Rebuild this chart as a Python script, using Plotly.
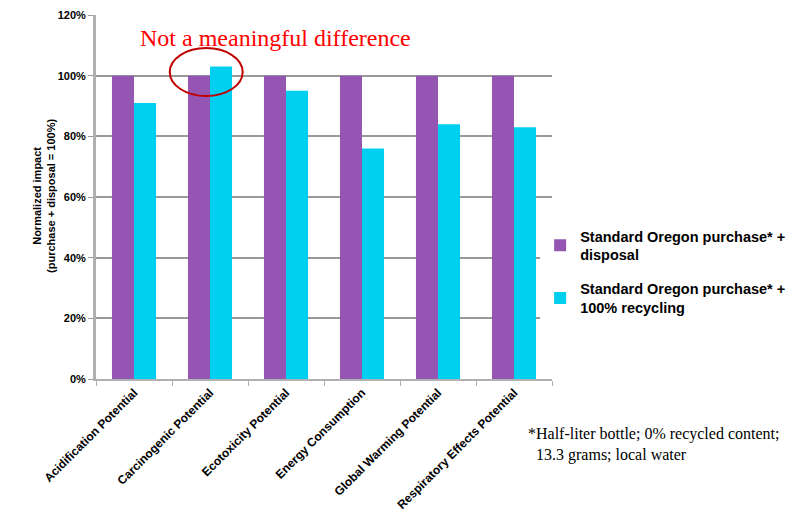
import plotly.graph_objects as go

categories = ["Acidification Potential", "Carcinogenic Potential", "Ecotoxicity Potential",
              "Energy Consumption", "Global Warming Potential", "Respiratory Effects Potential"]
disposal = [100, 100, 100, 100, 100, 100]
recycling = [91, 103, 95, 76, 84, 83]
y_ticks = [0, 20, 40, 60, 80, 100, 120]

purple = "#9556B3"
cyan = "#00CFF0"

fig = go.Figure()
fig.add_trace(go.Bar(x=categories, y=disposal, name="<b>Standard Oregon purchase* +<br>disposal</b>",
                     legendgroup="disposal",
                     marker=dict(color=purple, line=dict(width=0))))
fig.add_trace(go.Bar(x=categories, y=recycling, name="<b>Standard Oregon purchase* +<br>100% recycling</b>",
                     legendgroup="recycling",
                     marker=dict(color=cyan, line=dict(width=0))))

# page has an 8px body margin, so margins are offset by that
fig.update_layout(
    width=800, height=519,
    margin=dict(l=88, r=256, t=7, b=148, autoexpand=False),
    plot_bgcolor="white", paper_bgcolor="white",
    barmode="group", bargap=0.42, bargroupgap=0,
    font=dict(family="Liberation Sans, Arial", color="black"),
    showlegend=True,
    legend=dict(x=0.974, y=0.294, xanchor="left", yanchor="middle",
                font=dict(size=14.5, family="Liberation Sans, Arial"),
                itemwidth=30, tracegroupgap=12, traceorder="grouped"),
)

fig.update_xaxes(
    automargin=False,
    tickangle=-45, tickfont=dict(size=12, family="Liberation Sans, Arial"),
    tickvals=categories, ticktext=["<b>%s</b>" % c for c in categories],
    showline=True, linecolor="#B0B0B0", linewidth=2,
    ticks="outside", tickson="boundaries", ticklen=5, tickcolor="#B0B0B0",
    showgrid=False,
)
fig.update_yaxes(
    automargin=False,
    range=[0, 120],
    tickvals=y_ticks, ticktext=["<b>%d%%</b>" % v for v in y_ticks],
    tickfont=dict(size=11, family="Liberation Sans, Arial"),
    showline=True, linecolor="#B0B0B0", linewidth=3,
    ticks="outside", ticklen=5, tickcolor="#999999",
    showgrid=True, gridcolor="#999999", gridwidth=2,
    zeroline=False,
)

# y axis title
fig.add_annotation(text="<b>Normalized impact<br>(purchase + disposal = 100%)</b>",
                   xref="paper", yref="paper", x=-0.114, y=0.503, textangle=-90,
                   xanchor="center", yanchor="middle",
                   showarrow=False, font=dict(size=11))

# ellipse around carcinogenic pair
fig.add_shape(type="circle", xref="x", yref="y", x0=0.47, x1=1.43, y0=93.3, y1=109.1,
              line=dict(color="#C00000", width=2))

fig.add_annotation(text="Not a meaningful difference", xref="paper", yref="paper",
                   x=0.393, y=0.937, yanchor="middle", showarrow=False,
                   font=dict(family="Liberation Serif, Times New Roman", size=24, color="#FF0000"))

fig.add_annotation(text="*Half-liter bottle; 0% recycled content;<br>&nbsp;&nbsp;13.3 grams; local water",
                   xref="paper", yref="paper", x=0.942, y=-0.18, xanchor="left", yanchor="middle",
                   align="left", showarrow=False,
                   font=dict(family="Liberation Serif, Times New Roman", size=16, color="black"))

fig.write_html("out.html")
